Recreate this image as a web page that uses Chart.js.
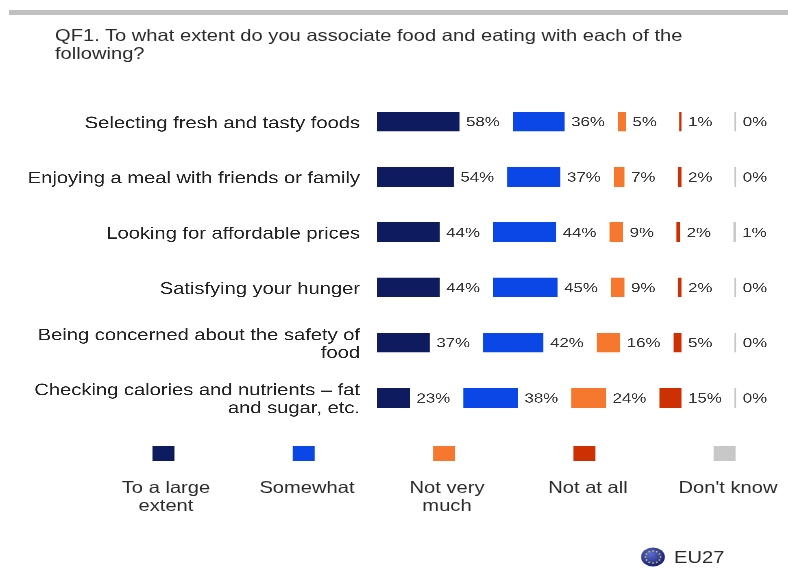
<!DOCTYPE html>
<html>
<head>
<meta charset="utf-8">
<title>QF1</title>
<script src="https://cdn.jsdelivr.net/npm/chart.js@4"></script>
<style>
  html, body { margin: 0; padding: 0; background: #fff; overflow: hidden; }
  body { width: 788px; height: 570px; position: relative; }
  #rule { position: absolute; left: 9px; right: 0; top: 10px; height: 5px; background: #c0c0c0; }
  /* the source picture is stretched sideways, so everything is drawn narrow and scaled */
  #wrap {
    position: absolute; left: 0; top: 0; height: 570px;
    transform-origin: 0 0;
    font-family: "Liberation Sans", Arial, sans-serif; color: #2b2b2b;
  }
  #wrap div { position: absolute; font-size: 16.5px; line-height: 18px; }
  #title { top: 26px; white-space: nowrap; }
  .swatch { top: 446px; height: 15px; }
  .name { top: 478px; text-align: center; white-space: pre; transform: translateX(-50%); }
  #eu { top: 548px; }
  svg { position: absolute; }
</style>
</head>
<body>
<div id="rule"></div>
<div id="wrap">
  <canvas id="chart"></canvas>
  <div id="title">QF1. To what extent do you associate food and eating with each of the<br>following?</div>
  <div id="eu">EU27</div>
</div>
<script>
// Categories
const categories = [
  "Selecting fresh and tasty foods",
  "Enjoying a meal with friends or family",
  "Looking for affordable prices",
  "Satisfying your hunger",
  ["Being concerned about the safety of", "food"],
  ["Checking calories and nutrients \u2013 fat", "and sugar, etc."],
];

// Series values (%)
const toALargeExtent = [58, 54, 44, 44, 37, 23];
const somewhat       = [36, 37, 44, 45, 42, 38];
const notVeryMuch    = [5, 7, 9, 9, 16, 24];
const notAtAll       = [1, 2, 2, 2, 5, 15];
const dontKnow       = [0, 0, 1, 0, 0, 0];

const seriesNames = ["To a large\nextent", "Somewhat", "Not very\nmuch", "Not at all", "Don't know"];
const seriesValues = [toALargeExtent, somewhat, notVeryMuch, notAtAll, dontKnow];
const seriesColors = ["#0f1b5f", "#0b47e6", "#f5782e", "#cc3003", "#c8c8c8"];

const STRETCH = 1.22;
const PX_PER_UNIT = 1.419;   // screen px per percent
const LABEL_GAP = 38.3;      // empty room after each bar, holds the value label
const AXIS_LEFT = 377;
const X_MAX = 270;

// screen px -> px inside the stretched wrapper
const sx = (px) => px / STRETCH;

const wrap = document.getElementById("wrap");
wrap.style.width = sx(788) + "px";
wrap.style.transform = `scaleX(${STRETCH})`;
document.getElementById("title").style.left = sx(55) + "px";
document.getElementById("eu").style.left = sx(674) + "px";

// ----------------- legend -----------------
const swatchLeft = [152, 293, 433, 573, 714];
const nameCentre = [166, 307, 447, 588, 728];
seriesNames.forEach((name, i) => {
  const sw = document.createElement("div");
  sw.className = "swatch";
  sw.style.left = sx(swatchLeft[i]) + "px";
  sw.style.width = sx(22) + "px";
  sw.style.background = seriesColors[i];
  wrap.appendChild(sw);

  const label = document.createElement("div");
  label.className = "name";
  label.style.left = sx(nameCentre[i]) + "px";
  label.textContent = name;
  wrap.appendChild(label);
});

// ----------------- EU flag -----------------
let stars = "";
for (let i = 0; i < 12; i++) {
  const a = (i * Math.PI) / 6;
  stars += `<circle cx="${10 + 6 * Math.cos(a)}" cy="${10 + 6 * Math.sin(a)}" r="0.8" fill="#e8d040"/>`;
}
wrap.insertAdjacentHTML("beforeend", `
  <svg style="left:${sx(641)}px;top:547px" width="${sx(25)}" height="20" viewBox="0 0 20 20" preserveAspectRatio="none">
    <defs><radialGradient id="globe" cx="40%" cy="35%" r="70%">
      <stop offset="0" stop-color="#5a6fd0"/><stop offset="1" stop-color="#141a70"/>
    </radialGradient></defs>
    <circle cx="10" cy="10" r="9.5" fill="url(#globe)"/>${stars}
  </svg>`);

// ----------------- chart -----------------
const canvas = document.getElementById("chart");
canvas.width = sx(788);
canvas.height = 570;

const datasets = [];
seriesValues.forEach((values, i) => {
  datasets.push({
    data: values,
    backgroundColor: seriesColors[i],
    borderWidth: 0,
    barThickness: 19,
    minBarLength: i === 4 ? 0.8 : 0,
    isSeries: true,
  });
  if (i < 4) {
    datasets.push({
      data: categories.map(() => LABEL_GAP),
      backgroundColor: "rgba(0,0,0,0)",
      borderWidth: 0,
      barThickness: 19,
    });
  }
});

// Percent labels right of each bar
const valueLabels = {
  id: "valueLabels",
  afterDatasetsDraw(chart) {
    const ctx = chart.ctx;
    ctx.save();
    ctx.font = '13.8px "Liberation Sans", Arial, sans-serif';
    ctx.fillStyle = "#333333";
    ctx.textAlign = "left";
    ctx.textBaseline = "middle";
    chart.data.datasets.forEach((ds, d) => {
      if (!ds.isSeries) return;
      chart.getDatasetMeta(d).data.forEach((bar, i) => {
        ctx.fillText(ds.data[i] + "%", bar.x + sx(7), bar.y + 1);
      });
    });
    ctx.restore();
  },
};

// Category labels sit a little lower than the bar centre in the source
const nudgeTicks = {
  id: "nudgeTicks",
  afterUpdate(chart) {
    const y = chart.scales.y;
    if (y.nudged) return;
    y.nudged = true;
    const drawLabels = y.drawLabels;
    y.drawLabels = function (area) {
      this.ctx.save();
      this.ctx.translate(0, 2);
      drawLabels.call(this, area);
      this.ctx.restore();
    };
  },
};

new Chart(canvas, {
  type: "bar",
  data: { labels: categories, datasets },
  plugins: [valueLabels, nudgeTicks],
  options: {
    indexAxis: "y",
    responsive: false,
    animation: false,
    devicePixelRatio: 3,
    layout: {
      padding: { top: 94, bottom: 144.5, left: 0, right: sx(788 - AXIS_LEFT - X_MAX * PX_PER_UNIT) },
    },
    plugins: { legend: { display: false }, tooltip: { enabled: false } },
    scales: {
      x: { stacked: true, display: false, min: 0, max: X_MAX },
      y: {
        stacked: true,
        grid: { display: false, drawTicks: false },
        border: { display: false },
        afterFit(scale) { scale.width = sx(AXIS_LEFT); },
        ticks: {
          color: "#222222",
          padding: sx(17),
          autoSkip: false,
          font: { family: '"Liberation Sans", Arial, sans-serif', size: 16.5, lineHeight: 1.09 },
        },
      },
    },
  },
});
</script>
</body>
</html>
